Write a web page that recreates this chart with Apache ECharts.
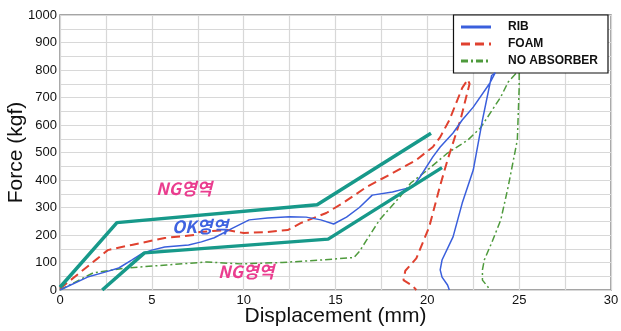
<!DOCTYPE html>
<html>
<head>
<meta charset="utf-8">
<script src="https://cdn.jsdelivr.net/npm/echarts@6/dist/echarts.min.js"></script>
<style>
  html, body { margin: 0; padding: 0; background: #fff; }
  #chart { width: 621px; height: 331px; }
</style>
</head>
<body>
<div id="chart"></div>
<script>
// 변위(mm) - 하중(kgf) 곡선
var ribData = [[0,0],[1.5,47],[2.45,65],[3.2,80],[3.9,109],[4.5,134],[5.0,145],[5.7,156],[7.0,164],[7.7,175],[8.4,190],[9.4,225],[10.3,255],[11.3,262],[12.5,266],[13.4,265],[14.2,255],[14.9,240],[15.6,265],[16.3,300],[17.0,345],[18.1,356],[19.2,375],[19.6,411],[20.3,484],[20.7,520],[21.4,571],[21.9,618],[22.5,665],[23.4,752],[23.7,790],[23.5,780],[23.0,618],[22.5,436],[21.9,316],[21.4,193],[20.8,109],[20.7,73],[20.8,47],[21.1,18],[21.2,0]];
var foamData = [[0,5],[2.07,116],[2.6,145],[3.9,164],[5.7,189],[7.3,200],[7.6,211],[9.1,218],[10.0,207],[11.3,211],[12.4,218],[13.1,243],[14.5,280],[15.4,316],[16.7,375],[18.1,425],[19.4,473],[20.3,520],[20.7,556],[21.2,618],[21.9,735],[22.2,765],[22.3,750],[21.8,618],[21.1,473],[20.7,380],[20.1,229],[19.4,115],[18.8,70],[18.7,36],[19.2,15],[19.4,0]];
var noAbsData = [[0,0],[1.8,62],[3.6,80],[5.8,91],[8.0,102],[9.8,95],[12.1,100],[14.2,109],[16.0,118],[16.3,140],[16.7,182],[17.4,255],[18.5,338],[19.1,389],[20.0,436],[21.1,498],[22.2,545],[22.9,590],[24.0,702],[24.4,756],[25.0,800],[25.0,735],[24.9,545],[24.4,375],[24.0,255],[23.5,171],[23.1,109],[23.0,73],[23.0,36],[23.3,11],[23.4,0]];
var upperBound = [[0,10],[3.1,245],[14,310],[20.2,570]];
var lowerBound = [[2.3,0],[4.6,135],[14.6,185],[20.8,445]];
var legendNames = ["RIB", "FOAM", "NO ABSORBER"];

var myChart = echarts.init(document.getElementById('chart'));
var labelFont = "Liberation Sans, Arial, sans-serif";
var option = {
  animation: false,
  grid: {
    left: 60, right: 10, top: 15, bottom: 41,
    outerBoundsMode: "none",
    containLabel: false,
    show: true,
    borderColor: "#888",
    borderWidth: 1.5
  },
  legend: {
    data: legendNames,
    orient: "vertical",
    right: 13,
    top: 15,
    padding: [6, 10, 6, 6],
    itemGap: 5,
    itemWidth: 30,
    itemHeight: 12,
    backgroundColor: "#fff",
    borderColor: "#111",
    borderWidth: 1.2,
    itemStyle: { opacity: 0 },
    lineStyle: { width: 3 },
    textStyle: {
      color: "#111",
      fontSize: 12,
      fontWeight: "bold",
      fontFamily: labelFont,
      padding: [0, 0, 0, 12]
    }
  },
  xAxis: {
    type: "value",
    min: 0, max: 30, interval: 5,
    name: "Displacement (mm)",
    nameLocation: "middle",
    nameGap: 16,
    nameMoveOverlap: false,
    nameTextStyle: { color: "#111", fontSize: 21, fontFamily: labelFont },
    axisLine: { show: false },
    axisTick: { show: false },
    axisLabel: { color: "#111", fontSize: 13, margin: 4, fontFamily: labelFont },
    splitLine: { show: true, lineStyle: { color: "#d8d8d8", width: 1.2 } },
    minorTick: { show: false, splitNumber: 2 },
    minorSplitLine: { show: true, lineStyle: { color: "#d8d8d8", width: 1.2 } }
  },
  yAxis: {
    type: "value",
    min: 0, max: 1000, interval: 100,
    name: "Force (kgf)",
    nameLocation: "middle",
    nameGap: 33,
    nameMoveOverlap: false,
    nameTextStyle: { color: "#111", fontSize: 21, fontFamily: labelFont },
    axisLine: { show: false },
    axisTick: { show: false },
    axisLabel: {
      color: "#111", fontSize: 13, margin: 3, fontFamily: labelFont,
      formatter: function (v) { return String(v); }
    },
    splitLine: { show: true, lineStyle: { color: "#d8d8d8", width: 1.2 } },
    minorTick: { show: false, splitNumber: 2 },
    minorSplitLine: { show: true, lineStyle: { color: "#d8d8d8", width: 1.2 } }
  },
  series: [
    {
      name: "RIB", type: "line", data: ribData, symbol: "none",
      lineStyle: { color: "#3a5fdc", width: 1.5 },
      itemStyle: { color: "#1f6fe0" },
      z: 4
    },
    {
      name: "FOAM", type: "line", data: foamData, symbol: "none",
      lineStyle: { color: "#e0412f", width: 2, type: [9, 5] },
      itemStyle: { color: "#e0412f" },
      z: 3
    },
    {
      name: "NO ABSORBER", type: "line", data: noAbsData, symbol: "none",
      lineStyle: { color: "#4e9a3c", width: 1.5, type: [7, 3, 2, 3] },
      itemStyle: { color: "#4e9a3c" },
      z: 2
    },
    {
      name: "upper", type: "line", data: upperBound, symbol: "none",
      lineStyle: { color: "#17998a", width: 3.5 }, z: 5
    },
    {
      name: "lower", type: "line", data: lowerBound, symbol: "none",
      lineStyle: { color: "#17998a", width: 3.5 }, z: 5
    }
  ],
  graphic: [
    {
      type: "text", left: 156, top: 180, z: 10,
      style: { text: "NG영역", fill: "#ea3d8f", font: "italic bold 17px 'Noto Sans CJK KR', sans-serif" }
    },
    {
      type: "text", left: 172, top: 218, z: 10,
      style: { text: "OK영역", fill: "#3f63e0", font: "italic bold 17px 'Noto Sans CJK KR', sans-serif" }
    },
    {
      type: "text", left: 218, top: 263, z: 10,
      style: { text: "NG영역", fill: "#ea3d8f", font: "italic bold 17px 'Noto Sans CJK KR', sans-serif" }
    }
  ]
};
myChart.setOption(option);
window.addEventListener("resize", function() {
  myChart.resize();
});
</script>
</body>
</html>
